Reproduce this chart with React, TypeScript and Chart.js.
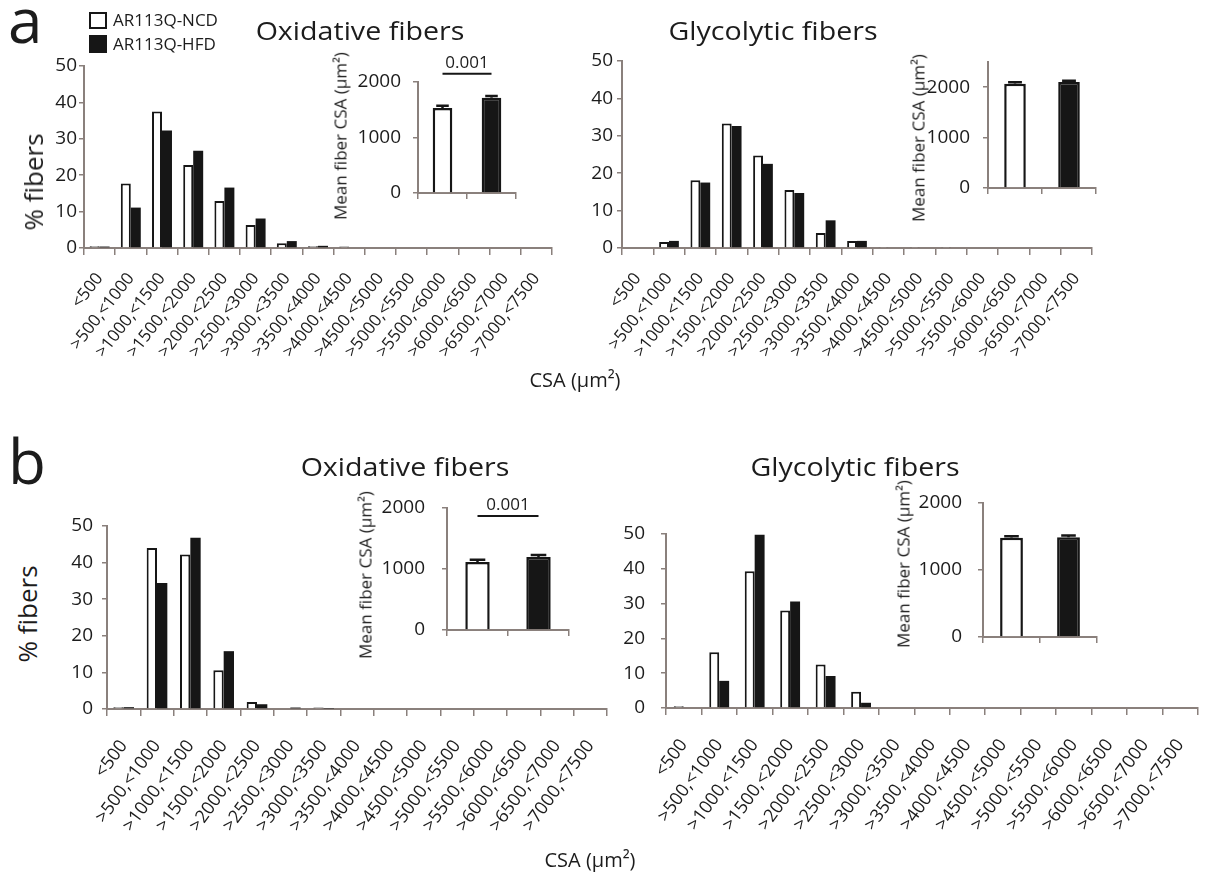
import React, { useEffect, useRef } from "react";
import { Chart, registerables } from "chart.js";

Chart.register(...registerables);

// ---------- DATA ----------
const binLabels = [
  "<500", ">500,<1000", ">1000,<1500", ">1500,<2000", ">2000,<2500",
  ">2500,<3000", ">3000,<3500", ">3500,<4000", ">4000,<4500", ">4500,<5000",
  ">5000,<5500", ">5500,<6000", ">6000,<6500", ">6500,<7000", ">7000,<7500",
];
const groups = ["AR113Q-NCD", "AR113Q-HFD"];

// panel a, oxidative fibers (% fibers)
const oxA_NCD = [0.5, 17.7, 37.5, 22.8, 12.9, 6.3, 1.3, 0.5, 0.4, 0, 0, 0, 0, 0, 0];
const oxA_HFD = [0.4, 11.1, 32.3, 26.7, 16.6, 8.1, 1.9, 0.6, 0, 0, 0, 0, 0, 0, 0];
// panel a, glycolytic fibers
const glyA_NCD = [0, 1.6, 18.1, 33.3, 24.7, 15.5, 4.0, 1.9, 0.3, 0.3, 0.3, 0, 0, 0, 0];
const glyA_HFD = [0, 1.9, 17.5, 32.6, 22.5, 14.7, 7.4, 1.9, 0.2, 0.2, 0, 0, 0, 0, 0];
// panel b, oxidative fibers
const oxB_NCD = [0.5, 44.0, 42.2, 10.6, 1.9, 0, 0.4, 0, 0, 0, 0, 0, 0, 0, 0];
const oxB_HFD = [0.5, 34.4, 46.8, 15.8, 1.3, 0.4, 0.1, 0, 0, 0, 0, 0, 0, 0, 0];
// panel b, glycolytic fibers
const glyB_NCD = [0.5, 16.0, 39.3, 28.0, 12.5, 4.7, 0, 0, 0, 0, 0, 0, 0, 0, 0];
const glyB_HFD = [0, 7.8, 49.8, 30.6, 9.2, 1.5, 0, 0, 0, 0, 0, 0, 0, 0, 0];

// insets: mean fiber CSA (µm²) and SEM
const meanOxA = [1530, 1715];
const semOxA = [40, 35];
const meanGlyA = [2070, 2105];
const semGlyA = [30, 25];
const meanOxB = [1115, 1195];
const semOxB = [35, 35];
const meanGlyB = [1480, 1490];
const semGlyB = [25, 25];
const pOxA = "0.001";
const pOxB = "0.001";

// ---------- STYLE ----------
const FONT = "'Open Sans', 'DejaVu Sans', sans-serif";
const AXIS = "#8a807c";
const TXT = "#1c1c1c";
const BLACK = "#161616";
const CLEAR = "rgba(0,0,0,0)";

const errorSigPlugin = {
  id: "errSig",
  afterDatasetsDraw(chart: any, _args: any, opts: any) {
    const ctx = chart.ctx;
    const meta = chart.getDatasetMeta(0);
    const y = chart.scales.y;
    const data = chart.data.datasets[0].data as number[];
    ctx.save();
    ctx.strokeStyle = BLACK;
    ctx.lineWidth = 2.5;
    meta.data.forEach((bar: any, i: number) => {
      const v = data[i];
      const top = y.getPixelForValue(v + opts.sem[i]);
      const base = y.getPixelForValue(v);
      const half = bar.width * 0.32;
      ctx.beginPath();
      ctx.moveTo(bar.x, base);
      ctx.lineTo(bar.x, top);
      ctx.moveTo(bar.x - half, top);
      ctx.lineTo(bar.x + half, top);
      ctx.stroke();
    });
    if (opts.sig) {
      const b0 = meta.data[0];
      const b1 = meta.data[1];
      const yy = y.getPixelForValue(opts.sigValue);
      ctx.lineWidth = 2;
      ctx.beginPath();
      ctx.moveTo(b0.x, yy);
      ctx.lineTo(b1.x, yy);
      ctx.stroke();
      ctx.fillStyle = TXT;
      ctx.font = `17px ${FONT}`;
      ctx.textAlign = "center";
      ctx.textBaseline = "alphabetic";
      ctx.fillText(opts.sig, (b0.x + b1.x) / 2, yy - 6);
    }
    ctx.restore();
  },
};

type Box = { L: number; R: number; T: number; B: number };

function histConfig(ncd: number[], hfd: number[], catPct: number, yPad: number, xPad: number, xFont: number, rot: number, yw: number, xh: number, pt: number) {
  return {
    type: "bar" as const,
    data: {
      labels: binLabels,
      datasets: [
        { label: groups[0], data: ncd, backgroundColor: "#ffffff", borderColor: BLACK, borderWidth: 2, borderSkipped: "start" },
        { label: groups[1], data: hfd, backgroundColor: BLACK, borderColor: BLACK, borderWidth: 0 },
      ],
    },
    options: {
      responsive: false,
      animation: false,
      devicePixelRatio: 1,
      layout: { padding: { top: pt, right: 40, left: 0, bottom: 0 } },
      plugins: { legend: { display: false }, tooltip: { enabled: false }, title: { display: false } },
      datasets: { bar: { barPercentage: 1, categoryPercentage: catPct } },
      scales: {
        x: {
          grid: { display: true, drawOnChartArea: false, offset: true, tickLength: 7, color: AXIS, lineWidth: 1.5 },
          border: { display: true, color: AXIS, width: 2 },
          ticks: { autoSkip: false, maxRotation: rot, minRotation: rot, padding: xPad, color: TXT, font: { family: FONT, size: xFont } },
          afterFit: (s: any) => { s.height = xh; },
        },
        y: {
          min: 0,
          max: 50,
          ticks: { stepSize: 10, padding: yPad, color: TXT, font: { family: FONT, size: 19 } },
          grid: { display: true, drawOnChartArea: false, tickLength: 5, color: AXIS, lineWidth: 1.5 },
          border: { display: true, color: AXIS, width: 2 },
          afterFit: (s: any) => { s.width = yw; },
        },
      },
    },
  };
}

function insetConfig(means: number[], sems: number[], max: number, yPad: number, sig: string | null, sigValue: number, yw: number, xh: number, pt: number) {
  return {
    type: "bar" as const,
    data: {
      labels: groups,
      datasets: [
        {
          data: means,
          backgroundColor: ["#ffffff", BLACK],
          borderColor: [BLACK, BLACK],
          borderWidth: 2.5,
          borderSkipped: "start",
          barPercentage: 0.4,
          categoryPercentage: 1,
        },
      ],
    },
    options: {
      responsive: false,
      animation: false,
      devicePixelRatio: 1,
      layout: { padding: { top: pt, right: 10, left: 0, bottom: 0 } },
      plugins: {
        legend: { display: false },
        tooltip: { enabled: false },
        errSig: { sem: sems, sig, sigValue },
      },
      scales: {
        x: {
          ticks: { display: false },
          grid: { display: true, drawOnChartArea: false, offset: true, tickLength: 6, color: AXIS, lineWidth: 1.5 },
          border: { display: true, color: AXIS, width: 2 },
          afterFit: (s: any) => { s.height = xh; },
        },
        y: {
          min: 0,
          max,
          ticks: {
            stepSize: 500,
            autoSkip: false,
            padding: yPad,
            color: TXT,
            font: { family: FONT, size: 19 },
            callback: (v: any) => (Number(v) % 1000 === 0 ? String(v) : ""),
          },
          grid: {
            display: true,
            drawOnChartArea: false,
            tickLength: 5,
            color: AXIS,
            tickColor: (c: any) => (c.tick && c.tick.value % 1000 === 0 ? AXIS : CLEAR),
            lineWidth: 1.5,
          },
          border: { display: true, color: AXIS, width: 2 },
          afterFit: (s: any) => { s.width = yw; },
        },
      },
    },
    plugins: [errorSigPlugin],
  };
}

function ChartBox({ box, yw, xh, pt, pr, make }: { box: Box; yw: number; xh: number; pt: number; pr: number; make: () => any }) {
  const ref = useRef<HTMLCanvasElement>(null);
  useEffect(() => {
    const c = new Chart(ref.current as HTMLCanvasElement, make());
    return () => c.destroy();
  }, []);
  const w = box.R - box.L + yw + pr;
  const h = box.B - box.T + pt + xh;
  return (
    <canvas
      ref={ref}
      width={w}
      height={h}
      style={{ position: "absolute", left: box.L - yw, top: box.T - pt, width: w, height: h }}
    />
  );
}

function Txt({ x, y, size, children, align = "left", rotate = 0, sx = 1 }: any) {
  // (x, y): baseline point for unrotated text, centre for rotated text
  const style: React.CSSProperties = {
    position: "absolute",
    fontFamily: FONT,
    fontSize: size,
    lineHeight: 1,
    color: TXT,
    whiteSpace: "nowrap",
  };
  if (rotate) {
    style.left = x;
    style.top = y;
    style.transform = `translate(-50%, -50%) rotate(${rotate}deg)`;
  } else {
    style.left = x;
    style.top = y - 0.888 * size;
    if (align === "center") {
      style.transform = `translateX(-50%) scaleX(${sx})`;
      style.transformOrigin = "50% 50%";
    } else {
      style.transform = `scaleX(${sx})`;
      style.transformOrigin = "0 50%";
    }
  }
  return <div style={style}>{children}</div>;
}

const HYW = 60, HXH = 150, HPT = 40, HPR = 40;
const IYW = 75, IXH = 40, IPT = 40, IPR = 10;

export default function App() {
  const boxOxA: Box = { L: 84, R: 552, T: 66, B: 248 };
  const boxGlyA: Box = { L: 622, R: 1092, T: 61, B: 248 };
  const boxOxB: Box = { L: 107, R: 607, T: 526, B: 709 };
  const boxGlyB: Box = { L: 666, R: 1198, T: 534, B: 708 };

  const inOxA: Box = { L: 418, R: 516, T: 82, B: 193 };
  const inGlyA: Box = { L: 988, R: 1096, T: 62, B: 188 };
  const inOxB: Box = { L: 447, R: 569, T: 508, B: 630 };
  const inGlyB: Box = { L: 983, R: 1097, T: 503, B: 637 };

  return (
    <div style={{ position: "fixed", left: 0, top: 0, width: 1206, height: 886, overflow: "hidden", background: "#ffffff" }}>
      <ChartBox box={boxOxA} yw={HYW} xh={HXH} pt={HPT} pr={HPR} make={() => histConfig(oxA_NCD, oxA_HFD, 0.64, 2, 14, 17, 52, HYW, HXH, HPT)} />
      <ChartBox box={boxGlyA} yw={HYW} xh={HXH} pt={HPT} pr={HPR} make={() => histConfig(glyA_NCD, glyA_HFD, 0.63, 4, 14, 17, 52, HYW, HXH, HPT)} />
      <ChartBox box={boxOxB} yw={HYW} xh={HXH} pt={HPT} pr={HPR} make={() => histConfig(oxB_NCD, oxB_HFD, 0.62, 9, 20, 18, 54, HYW, HXH, HPT)} />
      <ChartBox box={boxGlyB} yw={HYW} xh={HXH} pt={HPT} pr={HPR} make={() => histConfig(glyB_NCD, glyB_HFD, 0.56, 16, 20, 18, 54, HYW, HXH, HPT)} />

      <ChartBox box={inOxA} yw={IYW} xh={IXH} pt={IPT} pr={IPR} make={() => insetConfig(meanOxA, semOxA, 2000, 12, pOxA, 2150, IYW, IXH, IPT)} />
      <ChartBox box={inGlyA} yw={IYW} xh={IXH} pt={IPT} pr={IPR} make={() => insetConfig(meanGlyA, semGlyA, 2500, 13, null, 0, IYW, IXH, IPT)} />
      <ChartBox box={inOxB} yw={IYW} xh={IXH} pt={IPT} pr={IPR} make={() => insetConfig(meanOxB, semOxB, 2000, 17, pOxB, 1870, IYW, IXH, IPT)} />
      <ChartBox box={inGlyB} yw={IYW} xh={IXH} pt={IPT} pr={IPR} make={() => insetConfig(meanGlyB, semGlyB, 2000, 16, null, 0, IYW, IXH, IPT)} />

      {/* panel letters */}
      <Txt x={8} y={43} size={62}>a</Txt>
      <Txt x={8} y={484} size={62}>b</Txt>

      {/* legend */}
      <div style={{ position: "absolute", left: 89, top: 12, width: 14, height: 13, border: `2px solid ${BLACK}`, background: "#fff" }} />
      <div style={{ position: "absolute", left: 89, top: 35, width: 18, height: 18, background: BLACK }} />
      <Txt x={113} y={26} size={17}>{groups[0]}</Txt>
      <Txt x={113} y={50} size={17}>{groups[1]}</Txt>

      {/* titles */}
      <Txt x={360} y={40} size={26} align="center" sx={1.1}>Oxidative fibers</Txt>
      <Txt x={773} y={40} size={26} align="center" sx={1.1}>Glycolytic fibers</Txt>
      <Txt x={405} y={476} size={26} align="center" sx={1.1}>Oxidative fibers</Txt>
      <Txt x={855} y={476} size={26} align="center" sx={1.1}>Glycolytic fibers</Txt>

      {/* axis titles */}
      <Txt x={33} y={182} size={26} rotate={-90}>% fibers</Txt>
      <Txt x={27} y={614} size={26} rotate={-90}>% fibers</Txt>
      <Txt x={575} y={388} size={20} align="center">CSA (µm²)</Txt>
      <Txt x={590} y={868} size={20} align="center">CSA (µm²)</Txt>

      <Txt x={340} y={136} size={17} rotate={-90}>Mean fiber CSA (µm²)</Txt>
      <Txt x={918} y={138} size={17} rotate={-90}>Mean fiber CSA (µm²)</Txt>
      <Txt x={365} y={575} size={17} rotate={-90}>Mean fiber CSA (µm²)</Txt>
      <Txt x={903} y={564} size={17} rotate={-90}>Mean fiber CSA (µm²)</Txt>
    </div>
  );
}
